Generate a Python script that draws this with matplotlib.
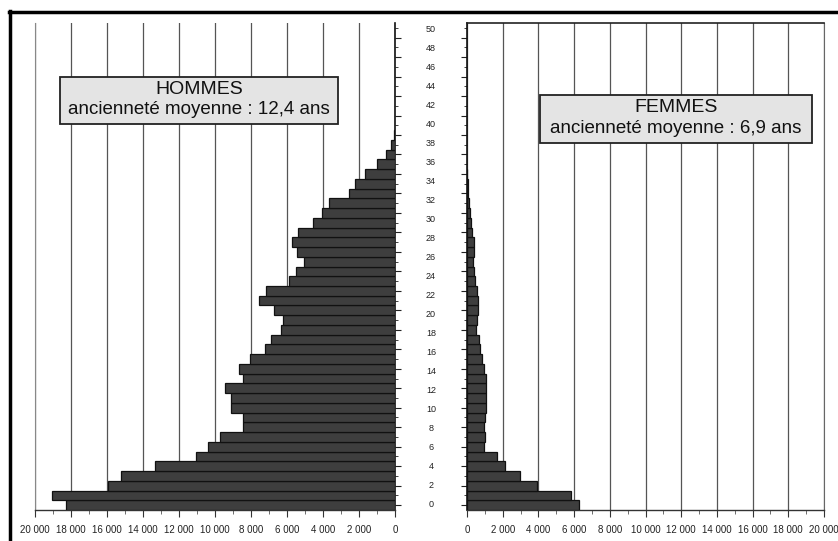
import matplotlib
matplotlib.use('Agg')
import matplotlib.pyplot as plt
from matplotlib.patches import Rectangle
from matplotlib.lines import Line2D
from matplotlib.ticker import FuncFormatter, MultipleLocator

# ---------------- data ----------------
years_men = list(range(39))
men = [18300, 19040, 15960, 15240, 13330, 11060, 10410, 9700, 8430, 8430,
       9120, 9090, 9460, 8460, 8650, 8060, 7200, 6900, 6350, 6240,
       6730, 7550, 7180, 5910, 5500, 5060, 5460, 5720, 5370, 4570,
       4040, 3690, 2570, 2240, 1650, 1020, 520, 200, 60]
years_women = list(range(35))
women = [6290, 5820, 3900, 2970, 2130, 1660, 950, 1030, 970, 1010,
         1060, 1080, 1040, 1060, 950, 840, 730, 670, 490, 540,
         600, 620, 540, 430, 410, 320, 390, 390, 280, 220,
         170, 110, 60, 30, 20]
x_ticks = list(range(0, 20001, 2000))
y_labels = list(range(0, 51, 2))
title_men = "HOMMES"
sub_men = "ancienneté moyenne : 12,4 ans"
title_women = "FEMMES"
sub_women = "ancienneté moyenne : 6,9 ans"

# ---------------- layout ----------------
plt.rcParams['font.family'] = ['Liberation Sans', 'DejaVu Sans']
W, H = 838, 541
fig = plt.figure(figsize=(W / 100, H / 100), dpi=100)
fig.patch.set_facecolor('white')


def fx(px):
    return px / W


def fy(py):
    return 1 - py / H


ax_top, ax_bot = 23, 510
axL = fig.add_axes([fx(35), fy(ax_bot), fx(395) - fx(35), (ax_bot - ax_top) / H])
axR = fig.add_axes([fx(467), fy(ax_bot), fx(824) - fx(467), (ax_bot - ax_top) / H])

fmt = FuncFormatter(lambda v, p: f"{int(v):,}".replace(",", " "))
bar_kw = dict(height=1.0, color='#3e3e3e', edgecolor='#111111', linewidth=0.9, zorder=3)

axL.barh(years_men, men, **bar_kw)
axR.barh(years_women, women, **bar_kw)

for ax in (axL, axR):
    ax.set_ylim(-0.5, 49.5)
    ax.set_xticks(x_ticks)
    ax.xaxis.set_major_formatter(fmt)
    ax.xaxis.set_minor_locator(MultipleLocator(1000))
    ax.yaxis.set_major_locator(MultipleLocator(2))
    ax.yaxis.set_minor_locator(MultipleLocator(1))
    ax.grid(axis='x', color='#555555', linewidth=0.9, zorder=0)
    ax.set_axisbelow(True)
    ax.tick_params(axis='x', which='major', direction='out', length=5, width=0.8,
                   color='#333333', pad=6, labelsize=7, labelcolor='#222222')
    ax.tick_params(axis='x', which='minor', direction='out', length=3, width=0.6,
                   color='#555555')
    ax.tick_params(axis='y', which='major', direction='out', length=4, width=0.8,
                   color='#222222', labelleft=False, labelright=False)
    ax.tick_params(axis='y', which='minor', direction='out', length=2.5, width=0.6,
                   color='#222222')
    ax.spines['bottom'].set_color('#333333')
    ax.spines['bottom'].set_linewidth(1.0)

axL.set_xlim(20000, 0)
axL.yaxis.tick_right()
axL.spines['top'].set_visible(False)
axL.spines['left'].set_color('#888888')
axL.spines['left'].set_linewidth(0.8)
axL.spines['right'].set_color('#111111')
axL.spines['right'].set_linewidth(1.2)

axR.set_xlim(0, 20000)
axR.yaxis.tick_left()
axR.spines['top'].set_color('#222222')
axR.spines['top'].set_linewidth(1.2)
axR.spines['right'].set_color('#666666')
axR.spines['right'].set_linewidth(0.8)
axR.spines['left'].set_color('#111111')
axR.spines['left'].set_linewidth(1.2)

# central column of year labels
axC = fig.add_axes([fx(410), fy(ax_bot), fx(452) - fx(410), (ax_bot - ax_top) / H])
axC.set_ylim(-0.63, 50.68)
axC.set_xlim(0, 1)
axC.axis('off')
for v in y_labels:
    axC.text(0.5, v, str(v), ha='center', va='center', fontsize=6.5, color='#222222')

# outer frame of the scanned page
fig.add_artist(Line2D([fx(9.5), fx(9.5)], [fy(11), 0], lw=2.5, color='black',
                      transform=fig.transFigure))
fig.add_artist(Line2D([fx(8.5), 1], [fy(11.5), fy(11.5)], lw=2.5, color='black',
                      transform=fig.transFigure))

# annotation boxes


def label_box(x0, y0, x1, y1, t1, t2):
    fig.add_artist(Rectangle((fx(x0), fy(y1)), fx(x1) - fx(x0), (y1 - y0) / H,
                             transform=fig.transFigure, facecolor='#e4e4e4',
                             edgecolor='#222222', linewidth=1.3, zorder=5))
    cx = fx((x0 + x1) / 2)
    fig.text(cx, fy(y0 + (y1 - y0) * 0.27), t1, ha='center', va='center',
             fontsize=14, color='#111111', zorder=6)
    fig.text(cx, fy(y0 + (y1 - y0) * 0.69), t2, ha='center', va='center',
             fontsize=13.5, color='#111111', zorder=6)


label_box(60, 77, 338, 124, title_men, sub_men)
label_box(540, 95, 812, 143, title_women, sub_women)

fig.savefig('out.png', dpi=100)
